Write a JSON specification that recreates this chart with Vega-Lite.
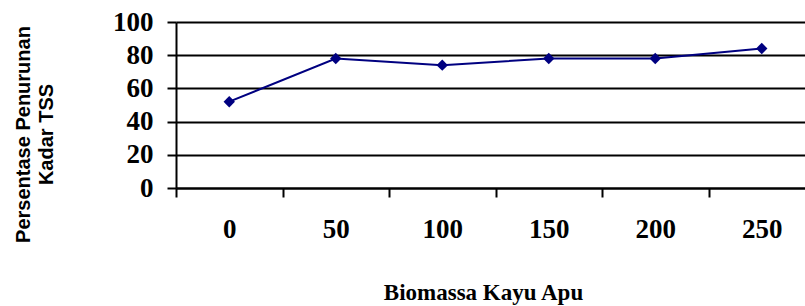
{
  "$schema": "https://vega.github.io/schema/vega-lite/v6.json",
  "autosize": "none",
  "width": 639,
  "height": 166,
  "padding": {"left": 176, "top": 22, "right": 0, "bottom": 118},
  "background": "white",
  "config": {"view": {"stroke": null}},
  "data": {"values": [
    {"biomassa": "0", "persen": 52},
    {"biomassa": "50", "persen": 78},
    {"biomassa": "100", "persen": 74},
    {"biomassa": "150", "persen": 78},
    {"biomassa": "200", "persen": 78},
    {"biomassa": "250", "persen": 84}
  ]},
  "encoding": {
    "x": {
      "field": "biomassa", "type": "ordinal", "sort": null,
      "scale": {"paddingInner": 0, "paddingOuter": 0},
      "axis": {
        "title": "Biomassa Kayu Apu",
        "titleFont": "Liberation Serif", "titleFontSize": 23, "titleFontWeight": "bold", "titleColor": "black",
        "titlePadding": 39, "titleX": 307,
        "labelAngle": 0, "labelFont": "Liberation Serif", "labelFontSize": 27, "labelFontWeight": "bold", "labelColor": "black",
        "labelPadding": 19,
        "tickBand": "extent", "tickSize": 9, "tickColor": "black", "tickWidth": 2,
        "domainColor": "black", "domainWidth": 2, "grid": false
      }
    },
    "y": {
      "field": "persen", "type": "quantitative",
      "scale": {"domain": [0, 100], "nice": false},
      "axis": {
        "title": ["Persentase Penurunan", "Kadar TSS"],
        "titleFont": "Liberation Sans", "titleFontSize": 20, "titleFontWeight": "bold", "titleColor": "black",
        "titleAngle": -90, "titleX": -163, "titleY": 112, "titleAlign": "center", "titleBaseline": "top", "titleLineHeight": 23,
        "values": [0, 20, 40, 60, 80, 100],
        "labelFont": "Liberation Serif", "labelFontSize": 27, "labelFontWeight": "bold", "labelColor": "black",
        "labelPadding": 14,
        "tickSize": 9, "tickColor": "black", "tickWidth": 2,
        "domainColor": "black", "domainWidth": 2,
        "grid": true, "gridColor": "black", "gridWidth": 2
      }
    }
  },
  "layer": [
    {"mark": {"type": "line", "color": "#000080", "strokeWidth": 2}},
    {"mark": {"type": "point", "shape": "diamond", "filled": true, "size": 130, "color": "#000080", "opacity": 1}}
  ]
}
